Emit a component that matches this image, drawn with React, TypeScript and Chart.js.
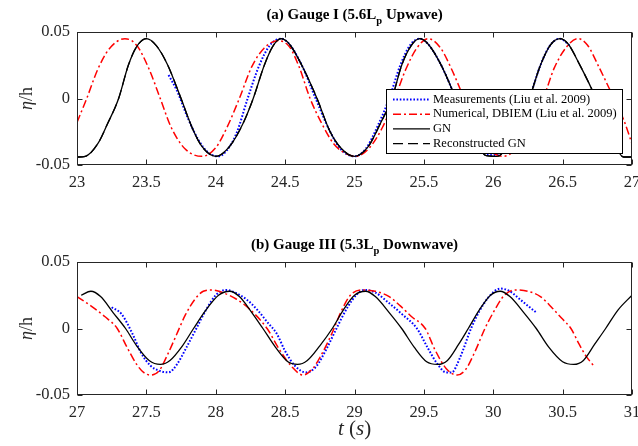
import React, { useEffect, useRef } from 'react';
import { Chart, registerables } from 'chart.js';

Chart.register(...registerables);

// ---------- Panel (a): Gauge I ----------
const topXTicks = [23, 23.5, 24, 24.5, 25, 25.5, 26, 26.5, 27];
const topYTicks = [-0.05, 0, 0.05];

const topMeas: [number, number][] = [
  [23.66, 0.0176], [23.72, 0.006], [23.8, -0.015], [23.88, -0.032], [23.95, -0.041], [24.02, -0.0435],
  [24.08, -0.039], [24.15, -0.026], [24.23, 0], [24.31, 0.024], [24.39, 0.04], [24.47, 0.045],
  [24.53, 0.041], [24.62, 0.025], [24.72, 0], [24.82, -0.024], [24.9, -0.038], [25.0, -0.0435],
  [25.08, -0.038], [25.17, -0.02], [25.25, 0], [25.33, 0.025], [25.4, 0.04], [25.47, 0.045],
  [25.53, 0.041], [25.62, 0.026], [25.73, 0], [25.82, -0.024], [25.9, -0.038], [25.97, -0.0425],
  [26.03, -0.0425], [26.1, -0.036], [26.19, -0.018], [26.26, 0], [26.34, 0.025], [26.41, 0.04],
  [26.48, 0.045], [26.55, 0.04],
];

const topNum: [number, number][] = [
  [23.0, -0.018], [23.07, 0], [23.15, 0.022], [23.23, 0.037], [23.345, 0.045], [23.43, 0.04],
  [23.52, 0.022], [23.6, 0], [23.68, -0.022], [23.78, -0.038], [23.9, -0.0435], [24.0, -0.037],
  [24.08, -0.022], [24.17, 0], [24.26, 0.024], [24.35, 0.038], [24.45, 0.0435], [24.53, 0.039],
  [24.6, 0.024], [24.68, 0], [24.76, -0.018], [24.85, -0.034], [24.93, -0.041], [25.01, -0.0435],
  [25.1, -0.038], [25.2, -0.022], [25.29, 0], [25.37, 0.022], [25.45, 0.038], [25.53, 0.045],
  [25.62, 0.038], [25.7, 0.022], [25.79, 0], [25.88, -0.022], [25.97, -0.038], [26.07, -0.0435],
  [26.17, -0.037], [26.26, -0.02], [26.36, 0], [26.44, 0.023], [26.53, 0.039], [26.61, 0.045],
  [26.68, 0.04], [26.76, 0.024], [26.87, 0], [26.94, -0.016], [27.0, -0.034],
];

const topGN: [number, number][] = [
  [23.0, -0.044], [23.06, -0.0435], [23.15, -0.034], [23.22, -0.019], [23.3, 0], [23.37, 0.025],
  [23.43, 0.039], [23.5, 0.045], [23.57, 0.04], [23.65, 0.026], [23.75, 0], [23.83, -0.022],
  [23.9, -0.036], [24.0, -0.0435], [24.1, -0.036], [24.2, -0.018], [24.27, 0], [24.35, 0.025],
  [24.41, 0.039], [24.47, 0.045], [24.53, 0.041], [24.62, 0.025], [24.73, 0], [24.82, -0.024],
  [24.9, -0.037], [25.0, -0.0435], [25.1, -0.036], [25.19, -0.018], [25.27, 0], [25.34, 0.025],
  [25.41, 0.04], [25.47, 0.045], [25.53, 0.041], [25.62, 0.026], [25.73, 0], [25.82, -0.024],
  [25.9, -0.038], [25.95, -0.043], [26.03, -0.0435], [26.1, -0.036], [26.19, -0.018], [26.26, 0],
  [26.34, 0.025], [26.41, 0.04], [26.48, 0.045], [26.54, 0.041], [26.62, 0.026], [26.74, 0],
  [26.82, -0.022], [26.89, -0.038], [26.94, -0.044], [27.0, -0.044],
];

const topRecon: [number, number][] = topGN;

// ---------- Panel (b): Gauge III ----------
const botXTicks = [27, 27.5, 28, 28.5, 29, 29.5, 30, 30.5, 31];
const botYTicks = [-0.05, 0, 0.05];

const botMeas: [number, number][] = [
  [27.25, 0.016], [27.32, 0.011], [27.4, -0.004], [27.46, -0.018], [27.53, -0.028], [27.6, -0.032],
  [27.66, -0.033], [27.72, -0.027], [27.79, -0.014], [27.86, 0], [27.93, 0.014], [28.0, 0.025],
  [28.07, 0.029], [28.14, 0.027], [28.22, 0.022], [28.3, 0.014], [28.37, 0.005], [28.44, -0.004],
  [28.5, -0.017], [28.57, -0.028], [28.65, -0.033], [28.72, -0.029], [28.8, -0.015], [28.87, 0],
  [28.95, 0.016], [29.02, 0.026], [29.07, 0.029], [29.15, 0.027], [29.25, 0.019], [29.34, 0.011],
  [29.45, 0], [29.53, -0.015], [29.6, -0.027], [29.66, -0.033], [29.7, -0.033], [29.76, -0.022],
  [29.84, 0], [29.9, 0.013], [29.97, 0.024], [30.05, 0.03], [30.12, 0.028], [30.18, 0.023],
  [30.25, 0.017], [30.31, 0.012],
];

const botNum: [number, number][] = [
  [27.0, 0.024], [27.1, 0.017], [27.2, 0.009], [27.29, 0], [27.36, -0.014], [27.43, -0.027],
  [27.48, -0.033], [27.53, -0.035], [27.59, -0.032], [27.66, -0.018], [27.72, -0.004], [27.78, 0.01],
  [27.85, 0.022], [27.91, 0.028], [27.97, 0.029], [28.05, 0.027], [28.15, 0.022], [28.25, 0.014],
  [28.37, 0], [28.46, -0.016], [28.55, -0.029], [28.63, -0.035], [28.7, -0.03], [28.76, -0.02],
  [28.84, -0.003], [28.9, 0.012], [28.97, 0.025], [29.05, 0.029], [29.15, 0.028], [29.25, 0.024],
  [29.33, 0.017], [29.41, 0.009], [29.51, 0], [29.58, -0.016], [29.66, -0.03], [29.74, -0.035],
  [29.8, -0.031], [29.87, -0.017], [29.94, 0], [30.0, 0.012], [30.08, 0.025], [30.16, 0.029],
  [30.25, 0.028], [30.34, 0.024], [30.42, 0.016], [30.49, 0.008], [30.56, 0], [30.62, -0.012],
  [30.67, -0.021], [30.72, -0.0275],
];

const botGN: [number, number][] = [
  [27.03, 0.025], [27.1, 0.028], [27.17, 0.024], [27.26, 0.012], [27.35, 0], [27.43, -0.013],
  [27.52, -0.024], [27.6, -0.027], [27.67, -0.024], [27.76, -0.013], [27.84, 0], [27.93, 0.014],
  [28.02, 0.025], [28.1, 0.028], [28.17, 0.024], [28.26, 0.012], [28.34, 0], [28.43, -0.014],
  [28.52, -0.025], [28.59, -0.027], [28.66, -0.024], [28.75, -0.013], [28.84, 0], [28.92, 0.014],
  [29.0, 0.025], [29.08, 0.028], [29.15, 0.024], [29.25, 0.012], [29.34, 0], [29.43, -0.014],
  [29.52, -0.025], [29.6, -0.027], [29.67, -0.024], [29.75, -0.012], [29.82, 0], [29.9, 0.014],
  [29.98, 0.025], [30.05, 0.028], [30.12, 0.024], [30.22, 0.012], [30.31, 0], [30.4, -0.014],
  [30.5, -0.025], [30.58, -0.027], [30.65, -0.024], [30.73, -0.012], [30.81, 0], [30.9, 0.014],
  [31.0, 0.025],
];

// ---------- text ----------
const legendLabels = [
  'Measurements (Liu et al. 2009)',
  'Numerical, DBIEM (Liu et al. 2009)',
  'GN',
  'Reconstructed GN',
];
const titleA: [string, boolean][] = [['(a) Gauge I (5.6L', false], ['p', true], [' Upwave)', false]];
const titleB: [string, boolean][] = [['(b) Gauge III (5.3L', false], ['p', true], [' Downwave)', false]];

const SERIF = "'Liberation Serif', 'Times New Roman', serif";
const AXIS = '#262626';

const framePlugin = {
  id: 'frame',
  afterDraw(chart: any, _args: any, opts: any) {
    const { ctx, chartArea: a, scales } = chart;
    const sx = scales.x;
    const sy = scales.y;
    ctx.save();
    // box
    ctx.strokeStyle = AXIS;
    ctx.lineWidth = 1;
    ctx.setLineDash([]);
    const L = Math.round(a.left) + 0.5;
    const R = Math.round(a.right) - 0.5;
    const T = Math.round(a.top) + 0.5;
    const B = Math.round(a.bottom) - 0.5;
    ctx.strokeRect(L, T, R - L, B - T);
    const tl = 5;
    ctx.beginPath();
    sx.ticks.forEach((t: any) => {
      const px = Math.round(sx.getPixelForValue(t.value)) + 0.5;
      ctx.moveTo(px, B); ctx.lineTo(px, B - tl);
      ctx.moveTo(px, T); ctx.lineTo(px, T + tl);
    });
    sy.ticks.forEach((t: any) => {
      const py = Math.round(sy.getPixelForValue(t.value)) + 0.5;
      ctx.moveTo(L, py); ctx.lineTo(L + tl, py);
      ctx.moveTo(R, py); ctx.lineTo(R - tl, py);
    });
    ctx.stroke();

    // title with subscript
    const parts: [string, boolean][] = opts.title;
    const big = `bold 15px ${SERIF}`;
    const small = `bold 10.5px ${SERIF}`;
    let w = 0;
    parts.forEach(([s, sub]) => { ctx.font = sub ? small : big; w += ctx.measureText(s).width; });
    let x = (a.left + a.right) / 2 - w / 2;
    const base = a.top - 13;
    ctx.fillStyle = '#000';
    ctx.textBaseline = 'alphabetic';
    ctx.textAlign = 'left';
    parts.forEach(([s, sub]) => {
      ctx.font = sub ? small : big;
      ctx.fillText(s, x, sub ? base + 5 : base);
      x += ctx.measureText(s).width;
    });

    // y label (rotated)
    ctx.save();
    ctx.translate(27, (a.top + a.bottom) / 2);
    ctx.rotate(-Math.PI / 2);
    ctx.fillStyle = AXIS;
    ctx.textBaseline = 'middle';
    const yl1 = 'η';
    const yl2 = '/h';
    ctx.font = `italic 18px ${SERIF}`;
    const w1 = ctx.measureText(yl1).width;
    ctx.font = `18px ${SERIF}`;
    const w2 = ctx.measureText(yl2).width;
    let yx = -(w1 + w2) / 2;
    ctx.font = `italic 18px ${SERIF}`;
    ctx.fillText(yl1, yx, 0);
    yx += w1;
    ctx.font = `18px ${SERIF}`;
    ctx.fillText(yl2, yx, 0);
    ctx.restore();

    // x label
    if (opts.xlabel) {
      const segs: [string, boolean][] = [['t', true], [' (', false], ['s', true], [')', false]];
      let tw = 0;
      segs.forEach(([s, it]) => { ctx.font = `${it ? 'italic ' : ''}21px ${SERIF}`; tw += ctx.measureText(s).width; });
      let tx = (a.left + a.right) / 2 - tw / 2;
      ctx.fillStyle = AXIS;
      ctx.textBaseline = 'alphabetic';
      segs.forEach(([s, it]) => {
        ctx.font = `${it ? 'italic ' : ''}21px ${SERIF}`;
        ctx.fillText(s, tx, a.bottom + 40);
        tx += ctx.measureText(s).width;
      });
    }

    // legend
    if (opts.legend) {
      const lx = 386.5, ly = 89.5, lw = 236, lh = 64;
      ctx.fillStyle = '#fff';
      ctx.fillRect(lx, ly, lw, lh);
      ctx.strokeStyle = '#000';
      ctx.lineWidth = 1;
      ctx.setLineDash([]);
      ctx.strokeRect(lx, ly, lw, lh);
      const ds = chart.data.datasets;
      legendLabels.forEach((lab, i) => {
        const d = ds[i];
        const cy = 99.5 + i * 14.7;
        ctx.strokeStyle = d.borderColor;
        ctx.lineWidth = d.borderWidth;
        ctx.setLineDash(d.borderDash || []);
        ctx.beginPath();
        ctx.moveTo(393, cy);
        ctx.lineTo(430, cy);
        ctx.stroke();
        ctx.setLineDash([]);
        ctx.fillStyle = '#000';
        ctx.font = `12.5px ${SERIF}`;
        ctx.textBaseline = 'middle';
        ctx.fillText(lab, 433, cy);
      });
    }
    ctx.restore();
  },
};

function toPts(arr: [number, number][]) {
  return arr.map(([x, y]) => ({ x, y }));
}

function makeConfig(p: {
  meas: [number, number][]; num: [number, number][]; gn: [number, number][]; recon?: [number, number][];
  xTicks: number[]; yTicks: number[]; padTop: number; xH: number; title: [string, boolean][];
  legend: boolean; xlabel: boolean;
}): any {
  const common = { pointRadius: 0, fill: false, cubicInterpolationMode: 'monotone' };
  const datasets: any[] = [
    { ...common, label: legendLabels[0], data: toPts(p.meas), borderColor: '#0000ff', borderWidth: 2, borderDash: [1.6, 1.8], order: 4 },
    { ...common, label: legendLabels[1], data: toPts(p.num), borderColor: '#ff0000', borderWidth: 1.5, borderDash: [8, 3, 2, 3], order: 3 },
    { ...common, label: legendLabels[2], data: toPts(p.gn), borderColor: '#000000', borderWidth: 1.3, order: 2 },
  ];
  if (p.recon) {
    datasets.push({ ...common, label: legendLabels[3], data: toPts(p.recon), borderColor: '#000000', borderWidth: 1.3, borderDash: [10, 5], order: 1 });
  }
  const xMin = p.xTicks[0];
  const xMax = p.xTicks[p.xTicks.length - 1];
  return {
    type: 'line',
    data: { datasets },
    plugins: [framePlugin],
    options: {
      animation: false,
      responsive: false,
      maintainAspectRatio: false,
      devicePixelRatio: 1,
      layout: { padding: { left: 0, right: 6, top: p.padTop, bottom: 0 } },
      plugins: {
        legend: { display: false },
        tooltip: { enabled: false },
        title: { display: false },
        frame: { title: p.title, legend: p.legend, xlabel: p.xlabel },
      },
      scales: {
        x: {
          type: 'linear',
          min: xMin,
          max: xMax,
          grid: { display: false, drawTicks: false },
          border: { display: false },
          afterBuildTicks: (s: any) => { s.ticks = p.xTicks.map((v) => ({ value: v })); },
          afterFit: (s: any) => { s.height = p.xH; s.paddingLeft = 0; s.paddingRight = 0; },
          ticks: {
            autoSkip: false,
            maxRotation: 0,
            padding: 8,
            color: AXIS,
            font: { family: SERIF, size: 16.5 },
            callback: (v: any) => String(v),
          },
        },
        y: {
          type: 'linear',
          min: p.yTicks[0],
          max: p.yTicks[p.yTicks.length - 1],
          grid: { display: false, drawTicks: false },
          border: { display: false },
          afterBuildTicks: (s: any) => { s.ticks = p.yTicks.map((v) => ({ value: v })); },
          afterFit: (s: any) => { s.width = 77; s.paddingTop = 0; s.paddingBottom = 0; },
          ticks: {
            padding: 7,
            color: AXIS,
            font: { family: SERIF, size: 16.5 },
            callback: (v: any) => String(v),
          },
        },
      },
    },
  };
}

function Panel(props: { top: number; height: number; cfg: any }) {
  const ref = useRef<HTMLCanvasElement | null>(null);
  useEffect(() => {
    if (!ref.current) return;
    const chart = new Chart(ref.current, props.cfg);
    return () => chart.destroy();
  }, []);
  return (
    <canvas
      ref={ref}
      width={638}
      height={props.height}
      style={{ position: 'absolute', left: 0, top: props.top, width: 638, height: props.height }}
    />
  );
}

export default function App() {
  const cfgA = makeConfig({
    meas: topMeas, num: topNum, gn: topGN, recon: topRecon,
    xTicks: topXTicks, yTicks: topYTicks, padTop: 32, xH: 55, title: titleA, legend: true, xlabel: false,
  });
  const cfgB = makeConfig({
    meas: botMeas, num: botNum, gn: botGN,
    xTicks: botXTicks, yTicks: botYTicks, padTop: 42, xH: 51, title: titleB, legend: false, xlabel: true,
  });
  return (
    <div style={{ position: 'fixed', left: 0, top: 0, width: 638, height: 446, background: '#fff' }}>
      <Panel top={0} height={220} cfg={cfgA} />
      <Panel top={220} height={226} cfg={cfgB} />
    </div>
  );
}
